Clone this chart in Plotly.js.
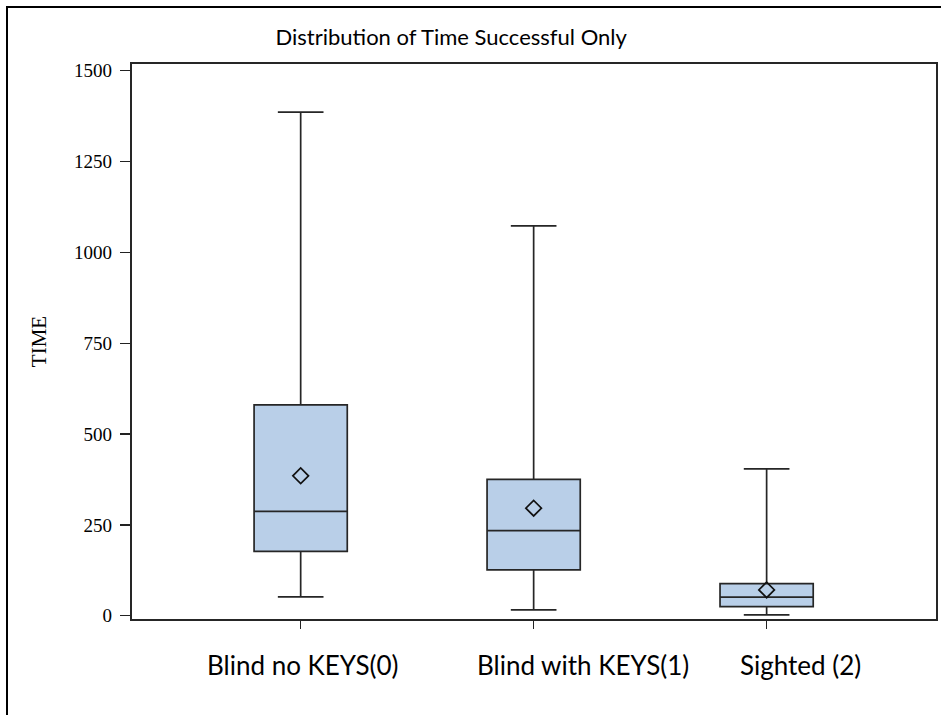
<!DOCTYPE html>
<html>
<head>
<meta charset="utf-8">
<script src="https://cdn.plot.ly/plotly-3.0.1.min.js"></script>
<style>html,body{margin:0;padding:0;background:#fff;}#chart{width:941px;height:715px;}</style>
</head>
<body>
<div id="chart"></div>
<script>
// Data
const categories = ["Blind no KEYS(0)", "Blind with KEYS(1)", "Sighted (2)"];
const lowerWhisker = [52, 16, 2];
const q1Values = [177, 126, 25];
const medianValues = [287, 234, 51];
const q3Values = [580, 375, 88];
const upperWhisker = [1386, 1073, 404];
const meanValues = [385, 296, 71];
const yTickValues = [0, 250, 500, 750, 1000, 1250, 1500];
const labelOffsets = [0.01, 0.21, 0.145]; // x-label offsets as in the original

const boxTrace = {
  type: 'box',
  x: categories,
  q1: q1Values,
  median: medianValues,
  q3: q3Values,
  lowerfence: lowerWhisker,
  upperfence: upperWhisker,
  boxpoints: false,
  fillcolor: 'rgb(185,207,232)',
  line: {color: '#262626', width: 1.7},
  width: 0.4,
  whiskerwidth: 0.49,
  hoverinfo: 'skip',
  showlegend: false
};

const meanTrace = {
  type: 'scatter',
  mode: 'markers',
  x: categories,
  y: meanValues,
  marker: {symbol: 'diamond-open', size: 12, color: '#111', line: {width: 1.7, color: '#111'}},
  showlegend: false,
  hoverinfo: 'skip'
};

const xLabelAnnotations = categories.map((c, i) => ({
  xref: 'x', yref: 'paper',
  x: i + labelOffsets[i], y: -0.083,
  text: c, showarrow: false,
  xanchor: 'center', yanchor: 'middle',
  font: {family: 'Lato, "Open Sans", sans-serif', size: 26, color: '#000'}
}));

const layout = {
  width: 941, height: 715,
  margin: {l: 132, r: 5, t: 64, b: 96, pad: 0},
  paper_bgcolor: '#fff', plot_bgcolor: '#fff',
  title: {
    text: 'Distribution of Time Successful Only',
    font: {family: 'Lato, "Open Sans", sans-serif', size: 22, color: '#000'},
    x: 0.397, xanchor: 'center', xref: 'paper',
    y: 0.948, yanchor: 'middle', yref: 'container'
  },
  xaxis: {
    type: 'category',
    range: [-0.724, 2.727],
    showticklabels: false,
    ticks: 'outside', ticklen: 8, tickwidth: 1.3, tickcolor: '#222',
    showline: true, linecolor: '#262626', linewidth: 2.2, mirror: true,
    showgrid: false, zeroline: false, fixedrange: true
  },
  yaxis: {
    range: [-9.1, 1518.4],
    tickvals: yTickValues,
    ticktext: yTickValues.map(String),
    ticks: 'outside', ticklen: 10, tickwidth: 1.3, tickcolor: '#222',
    tickfont: {family: '"Liberation Serif", "DejaVu Serif", serif', size: 19, color: '#000'},
    ticklabelstandoff: 4,
    showline: true, linecolor: '#262626', linewidth: 2.2, mirror: true,
    showgrid: false, zeroline: false, fixedrange: true,
    title: {
      text: 'TIME',
      font: {family: '"Liberation Serif", "DejaVu Serif", serif', size: 21, color: '#000'},
      standoff: 22
    }
  },
  annotations: xLabelAnnotations,
  shapes: [
    {type: 'rect', xref: 'paper', yref: 'paper',
     x0: (7 - 132) / 804, x1: (960 - 132) / 804,
     y0: (619 - 730) / 555, y1: (619 - 7) / 555,
     line: {color: '#000', width: 2}, fillcolor: 'rgba(0,0,0,0)', layer: 'below'}
  ]
};

Plotly.newPlot('chart', [boxTrace, meanTrace], layout, {displayModeBar: false, staticPlot: true});
</script>
</body>
</html>
